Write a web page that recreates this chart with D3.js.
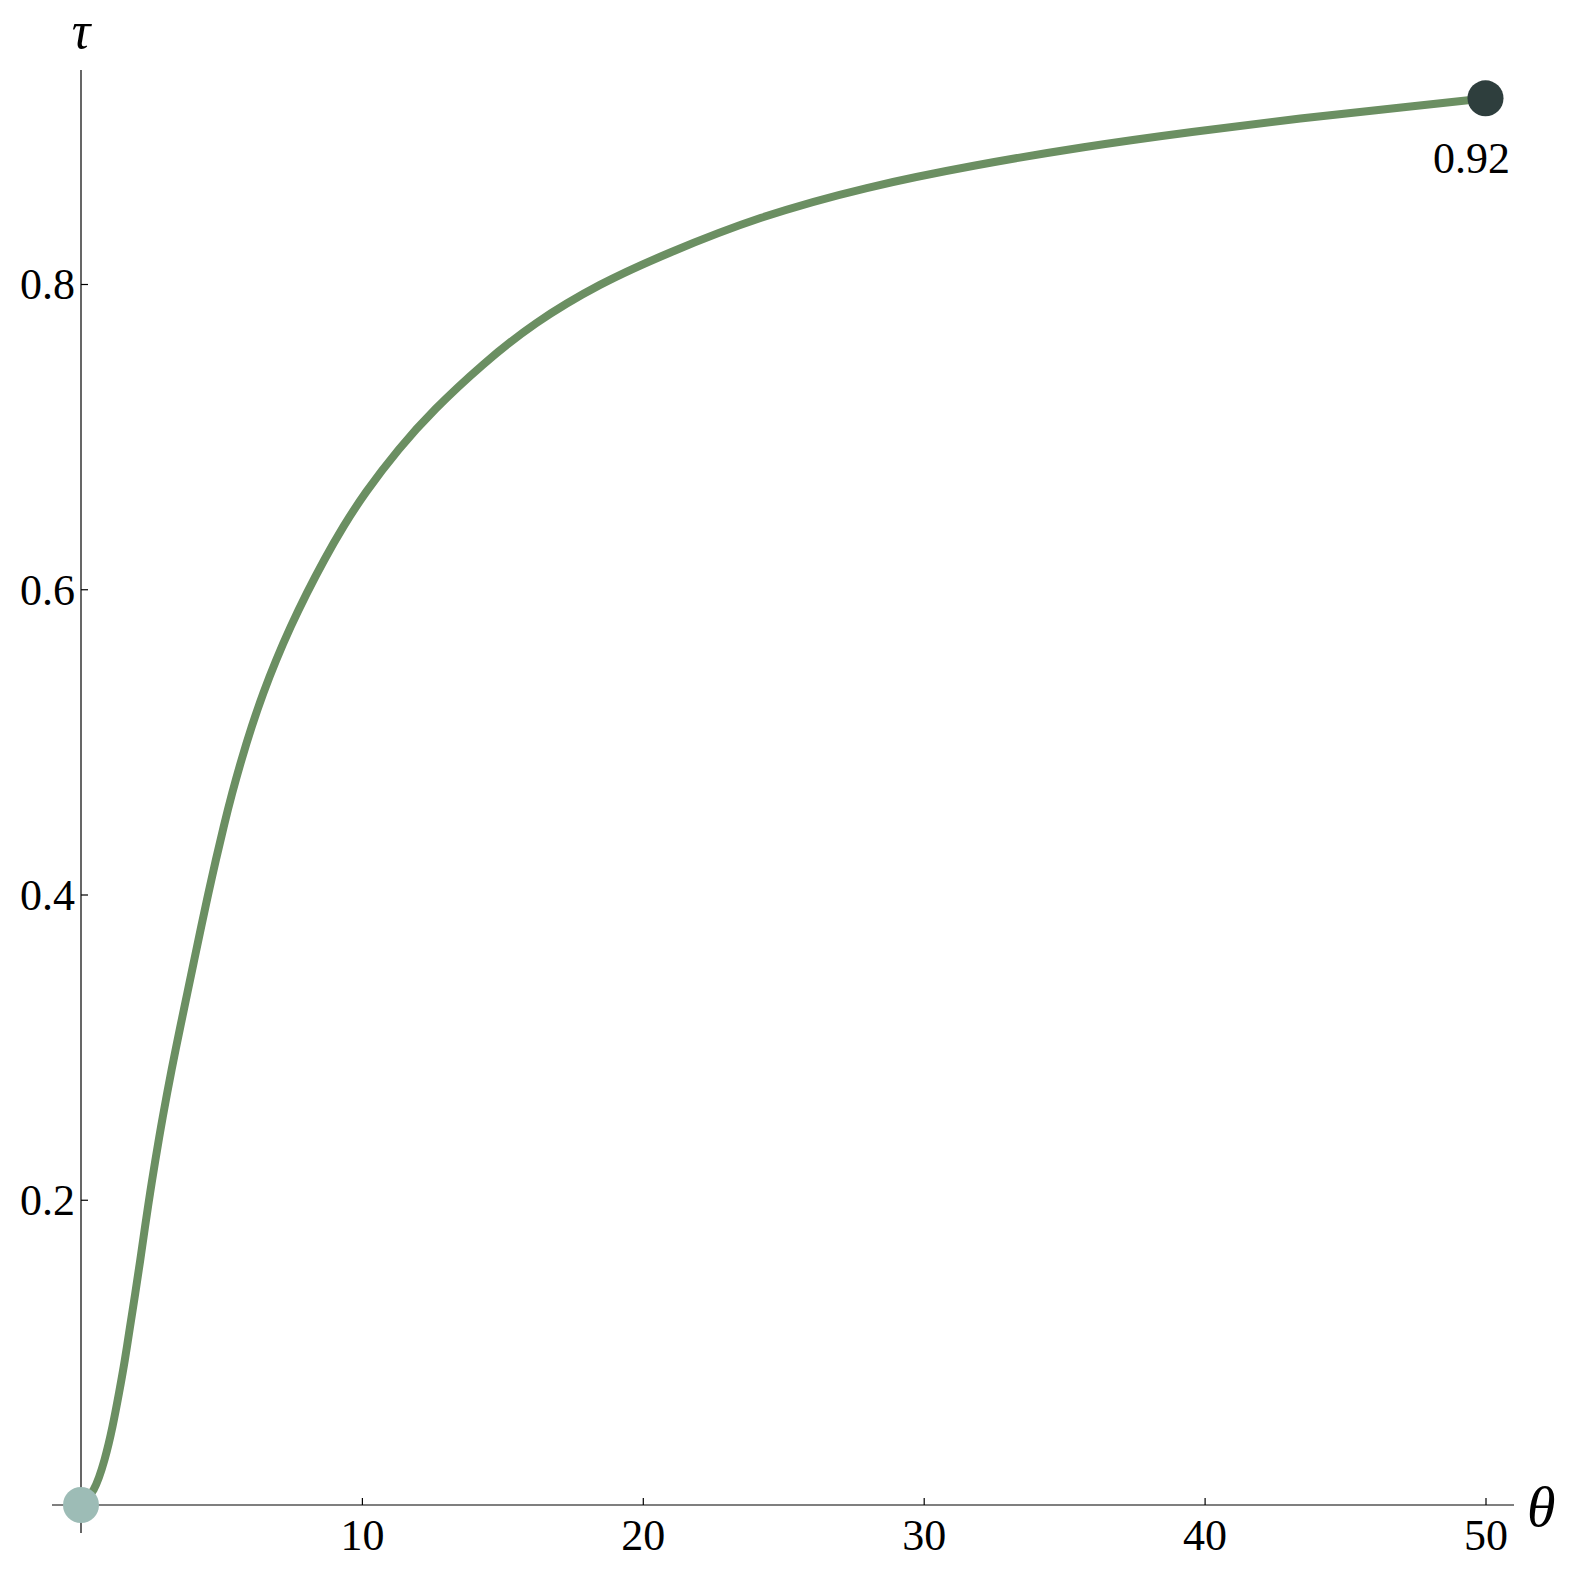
<!DOCTYPE html>
<html>
<head>
<meta charset="utf-8">
<script src="https://cdn.jsdelivr.net/npm/d3@7"></script>
<style>
  html, body { margin: 0; padding: 0; background: #fff; }
  svg { display: block; }
</style>
</head>
<body>
<svg id="chart" width="1577" height="1574"></svg>
<script>
// ---- data ----
const theta = [0, 0.463, 0.854, 1.129, 1.353, 1.566, 1.744, 1.933, 2.111, 2.278, 2.456, 2.645, 2.848, 3.062, 3.293, 3.535, 3.784, 4.03, 4.279, 4.532, 4.799, 5.076, 5.376, 5.707, 6.07, 6.479, 6.942, 7.458, 8.028, 8.651, 9.327, 10.093, 11.3, 12.542, 14.322, 16.102, 18.476, 20.851, 24.115, 27.974, 31.834, 35.692, 39.551, 43.41, 47.27, 50];
const tau   = [0, 0.0077, 0.0295, 0.0513, 0.0732, 0.095, 0.1168, 0.1387, 0.1605, 0.1823, 0.2042, 0.226, 0.2479, 0.2697, 0.2916, 0.3134, 0.3353, 0.3571, 0.3789, 0.4008, 0.4226, 0.4444, 0.4663, 0.4881, 0.5099, 0.5318, 0.5536, 0.5755, 0.5973, 0.6192, 0.641, 0.6629, 0.692, 0.7175, 0.748, 0.7743, 0.8005, 0.8201, 0.8441, 0.8638, 0.878, 0.89, 0.8998, 0.9086, 0.9162, 0.9217];
const xTicks = [10, 20, 30, 40, 50];
const yTicks = [0.2, 0.4, 0.6, 0.8];
const endLabel = "0.92";
const xTitle = "θ";
const yTitle = "τ";

// ---- layout ----
const svg = d3.select("#chart");
const x = d3.scaleLinear().domain([0, 50]).range([81, 1485.5]);
const y = d3.scaleLinear().domain([0, 0.8]).range([1505, 284]);
const font = '"Liberation Serif", "Times New Roman", serif';

// axes lines (with the small overhang past the origin)
svg.append("line")
  .attr("x1", x(0)).attr("x2", x(0))
  .attr("y1", 70).attr("y2", y(0) + 28)
  .attr("stroke", "#000").attr("stroke-width", 1.2);
svg.append("line")
  .attr("x1", x(0) - 29).attr("x2", 1514)
  .attr("y1", y(0)).attr("y2", y(0))
  .attr("stroke", "#000").attr("stroke-width", 1.2);

const yAxis = d3.axisLeft(y).tickValues(yTicks).tickFormat(d3.format(".1f"))
  .tickSizeInner(-7).tickSizeOuter(0).tickPadding(6);
const gy = svg.append("g").attr("transform", `translate(${x(0)},0)`).call(yAxis);
gy.select(".domain").remove();
gy.selectAll(".tick line").attr("stroke", "#000").attr("stroke-width", 1.2);
gy.selectAll(".tick text").attr("font-family", font).attr("font-size", 44).attr("dy", "0.34em").attr("fill", "#000");

const xAxis = d3.axisBottom(x).tickValues(xTicks).tickFormat(d3.format("d"))
  .tickSizeInner(-7).tickSizeOuter(0).tickPadding(14);
const gx = svg.append("g").attr("transform", `translate(0,${y(0)})`).call(xAxis);
gx.select(".domain").remove();
gx.selectAll(".tick line").attr("stroke", "#000").attr("stroke-width", 1.2);
gx.selectAll(".tick text").attr("font-family", font).attr("font-size", 44).attr("fill", "#000");

// axis titles
svg.append("text").attr("x", x(0)).attr("y", 48)
  .attr("text-anchor", "middle").attr("font-family", font)
  .attr("font-style", "italic").attr("font-size", 52).text(yTitle);
svg.append("text").attr("x", 1527).attr("y", 1526)
  .attr("font-family", font).attr("font-style", "italic")
  .attr("font-size", 58).text(xTitle);

// curve
const pts = theta.map((t, i) => [t, tau[i]]);
svg.append("path").datum(pts)
  .attr("fill", "none").attr("stroke", "#6b8f62").attr("stroke-width", 8)
  .attr("stroke-linejoin", "round")
  .attr("d", d3.line().x(d => x(d[0])).y(d => y(d[1])).curve(d3.curveBasis));

// end points
const first = pts[0], last = pts[pts.length - 1];
svg.append("circle").attr("cx", x(first[0])).attr("cy", y(first[1])).attr("r", 18).attr("fill", "#9dbcb6");
svg.append("circle").attr("cx", x(last[0])).attr("cy", y(last[1])).attr("r", 18).attr("fill", "#2e3e3d");
svg.append("text").attr("x", x(last[0]) - 14).attr("y", y(last[1]) + 75)
  .attr("text-anchor", "middle").attr("font-family", font).attr("font-size", 44).attr("fill", "#000").text(endLabel);
</script>
</body>
</html>
